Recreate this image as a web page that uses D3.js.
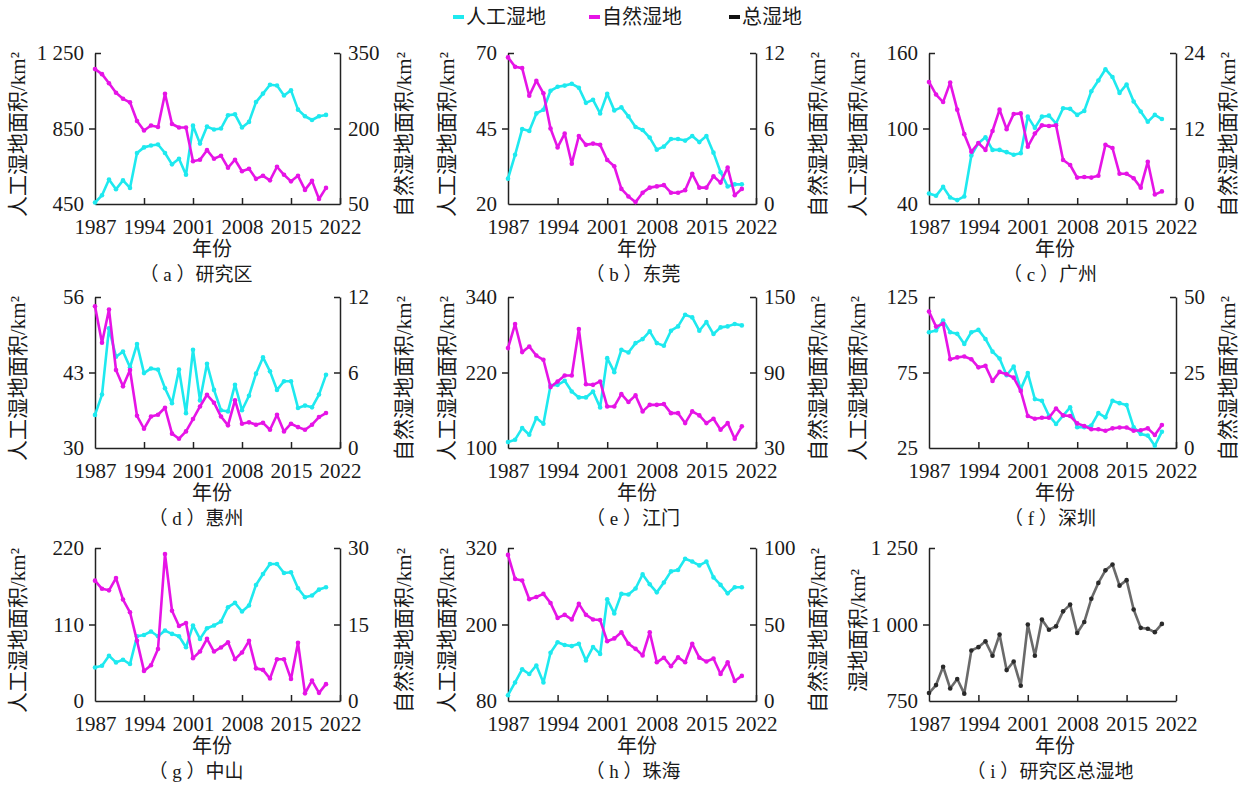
<!DOCTYPE html>
<html>
<head>
<meta charset="utf-8">
<script src="https://cdn.jsdelivr.net/npm/d3@7"></script>
<style>
  body { margin: 0; background: #fff; }
  text { font-family: "Liberation Serif", "Noto Sans CJK SC", serif; fill: #1a1a1a; }
</style>
</head>
<body>
<div id="chart"></div>
<script>
const years = [1987, 1988, 1989, 1990, 1991, 1992, 1993, 1994, 1995, 1996, 1997, 1998, 1999, 2000, 2001, 2002, 2003,
    2004, 2005, 2006, 2007, 2008, 2009, 2010, 2011, 2012, 2013, 2014, 2015, 2016, 2017, 2018, 2019, 2020];
const xTicks = [1987, 1994, 2001, 2008, 2015, 2022];

// (a) 研究区
const artA = [458, 496, 580, 528, 575, 535, 720, 750, 760, 765, 720, 660, 690, 605, 865, 770, 860, 845, 850, 920, 925, 855, 885, 990, 1035, 1082, 1078, 1025, 1052, 950, 915, 895, 915, 922];
const natA = [318, 308, 290, 271, 259, 252, 215, 196, 206, 203, 269, 209, 202, 202, 135, 138, 157, 140, 146, 122, 138, 115, 120, 100, 106, 97, 124, 108, 95, 106, 78, 96, 60, 82];
// (b) 东莞
const artB = [28.4, 36.3, 44.8, 44.2, 50, 51.2, 57.5, 58.8, 59.2, 59.8, 58.5, 53.5, 54.5, 50, 56.5, 51, 52, 49, 45.5, 44.5, 42, 38, 39, 41.5, 41.5, 41, 42.5, 40.5, 42.5, 37, 30.5, 25.8, 26.5, 26.5];
const natB = [11.65, 10.9, 10.8, 8.6, 9.8, 8.8, 6.0, 4.5, 5.6, 3.2, 5.4, 4.7, 4.8, 4.7, 3.5, 3.0, 1.2, 0.6, 0.15, 0.9, 1.3, 1.4, 1.5, 0.9, 0.9, 1.1, 2.4, 1.3, 1.3, 2.2, 1.7, 2.9, 0.7, 1.2];
// (c) 广州
const artC = [48.3, 46.5, 53.6, 45.2, 43.1, 46, 78.6, 88.3, 93, 83, 83, 81.2, 79.1, 80.4, 109.4, 100.5, 109.4, 110.2, 104, 116.1, 115.6, 110.8, 114, 129.6, 138.2, 147.1, 140.9, 128.3, 135, 121.5, 113.5, 105.4, 110.8, 107.5];
const natC = [19.4, 17.4, 16.2, 19.3, 15, 11.1, 8.3, 9.7, 8.6, 11.6, 15.0, 11.9, 14.3, 14.4, 9.1, 11.2, 12.5, 12.4, 12.5, 7.0, 6.2, 4.2, 4.3, 4.2, 4.5, 9.4, 8.9, 4.8, 4.8, 4.1, 2.6, 6.7, 1.5, 2.0];
// (d) 惠州
const artD = [35.7, 39.2, 50.6, 45.7, 46.6, 43.9, 47.9, 42.9, 43.7, 43.5, 40.3, 37.7, 43.5, 36, 46.9, 38.2, 44.5, 40, 36.5, 36.3, 40.9, 36.5, 39, 42.8, 45.6, 43.2, 40, 41.5, 41.5, 36.9, 37.3, 37, 39.2, 42.6];
const natD = [11.26, 8.37, 11.0, 6.2, 4.9, 6.2, 2.56, 1.53, 2.5, 2.64, 3.2, 1.14, 0.74, 1.32, 2.3, 3.3, 4.23, 3.6, 2.5, 1.8, 3.8, 1.93, 2.04, 1.85, 2.0, 1.45, 2.64, 1.32, 1.93, 1.66, 1.45, 1.85, 2.46, 2.78];
// (e) 江门
const artE = [109.5, 113.2, 131.7, 121.1, 147.6, 138.6, 199.4, 200.4, 206.8, 189.9, 180.4, 180.4, 189.9, 164.5, 242.8, 220.5, 256, 251.9, 266.7, 273.1, 285.3, 266.7, 262.5, 286.4, 293.3, 311.9, 307.6, 286.4, 300.2, 281.1, 291.7, 293.3, 297, 294.9];
const natE = [109.4, 128.5, 106.2, 110.7, 103.5, 100.1, 78.4, 82.9, 87.6, 87.6, 124.5, 80.7, 80.2, 82.9, 63, 63, 72.8, 66.5, 71.8, 59.1, 64.3, 64.3, 64.9, 57.7, 57.7, 49.8, 59.1, 55.9, 49.8, 53.3, 44.5, 49.8, 37.4, 47.2];
// (f) 深圳
const artF = [101.7, 102.8, 109.4, 101.7, 100.6, 93.9, 101.7, 103.2, 97.2, 88.8, 84.3, 73.2, 79, 64, 74.6, 57.4, 56.3, 46.4, 40.9, 46.4, 51.9, 38.7, 38.7, 39.8, 48.1, 45.3, 56.3, 54.7, 53.4, 38.7, 34.3, 33.2, 26.5, 35.8];
const natF = [45.2, 40.2, 41.1, 29.4, 30, 30.3, 29.4, 26.7, 27.2, 22.2, 25.2, 24.4, 23.3, 18.9, 10.6, 9.7, 10, 10, 13.1, 10.8, 10.6, 8.15, 7.3, 6.2, 6.2, 5.7, 6.5, 6.8, 6.8, 5.7, 5.9, 6.5, 4.3, 7.6];
// (g) 中山
const artG = [48.2, 50.7, 65.1, 55.5, 59.3, 53.1, 93.1, 95, 99.9, 93.1, 101.3, 96.5, 93.1, 77.2, 108.6, 89.3, 104.7, 108.6, 114.3, 134.9, 141.1, 128.7, 137.3, 166.9, 182.7, 197, 197, 184.1, 185.1, 162.1, 149.2, 151.6, 160.2, 163.6];
const natG = [23.6, 22, 21.7, 24.1, 19.9, 17.4, 11.8, 5.9, 7.0, 10.2, 28.8, 17.7, 14.7, 15.3, 8.4, 9.7, 12.2, 9.7, 10.5, 11.5, 8.2, 9.5, 11.8, 6.4, 6.1, 4.4, 8.2, 8.2, 4.3, 11.4, 1.5, 4, 1.6, 3.3];
// (h) 珠海
const artH = [89.1, 109.1, 129.7, 122.4, 135.8, 109.1, 155.8, 172.1, 167.9, 166.1, 169.7, 143.6, 164.8, 153.9, 239.5, 217.4, 248, 247.1, 256.5, 278.6, 263.1, 250.4, 265.9, 283.3, 285.6, 303.1, 298.8, 292.7, 298.8, 273.9, 262.1, 248.9, 258.4, 258.4];
const natH = [95.5, 79.8, 78.8, 66.5, 68, 70, 64.1, 54.3, 56.3, 53.3, 63.5, 56.3, 53.3, 52.9, 39.1, 40.9, 44.9, 37.4, 34.1, 29.8, 44.9, 25.3, 28.3, 22.7, 28.5, 25.3, 37.4, 28.3, 25.8, 27.8, 17.7, 25.3, 13.1, 16.4];
// (i) 研究区总湿地
const totalI = [776, 802, 862, 791, 822, 774, 915, 926, 945, 898, 967, 851, 879, 800, 1000, 898, 1016, 983, 994, 1043, 1065, 972, 1008, 1084, 1136, 1177, 1196, 1127, 1145, 1049, 989, 986, 975, 1002];

const captionLetters = ['a', 'b', 'c', 'd', 'e', 'f', 'g', 'h', 'i'];
const captionNames = ['研究区', '东莞', '广州', '惠州', '江门', '深圳', '中山', '珠海', '研究区总湿地'];
const leftTicks = [[450, 850, 1250], [20, 45, 70], [40, 100, 160], [30, 43, 56], [100, 220, 340], [25, 75, 125], [0, 110, 220], [80, 200, 320], [750, 1000, 1250]];
const rightTicks = [[50, 200, 350], [0, 6, 12], [0, 12, 24], [0, 6, 12], [30, 90, 150], [0, 25, 50], [0, 15, 30], [0, 50, 100], null];
const artSeries = [artA, artB, artC, artD, artE, artF, artG, artH, totalI];
const natSeries = [natA, natB, natC, natD, natE, natF, natG, natH, null];

const legendNames = ['人工湿地', '自然湿地', '总湿地'];
const colArt = '#1ee9ef', colNat = '#e614e6', colTot = '#6a6a6a';

const W = 1247, H = 787;
const svg = d3.select('#chart').append('svg').attr('width', W).attr('height', H);
svg.append('rect').attr('width', W).attr('height', H).attr('fill', '#fff');

const cols = [
    { l: 95, r: 340, tl: 18, tr: 404, xl: 212, cap: 196 },
    { l: 508, r: 756, tl: 447, tr: 818, xl: 637, cap: 633 },
    { l: 929, r: 1176, tl: 858, tr: 1228, xl: 1055, cap: 1050 }
];
const rows = [{ t: 53, b: 204 }, { t: 297, b: 448 }, { t: 548, b: 701 }];

const fmt = d => d >= 1000 ? String(d).replace(/(\d)(\d{3})$/, '$1 $2') : String(d);

function styleAxis(g) {
    g.select('.domain').attr('stroke', '#222').attr('stroke-width', 1.5);
    g.selectAll('.tick line').attr('stroke', '#222').attr('stroke-width', 1.5);
    g.selectAll('.tick text').attr('font-size', 21).attr('fill', '#1a1a1a')
        .style('font-family', '"Liberation Serif", serif');
}

function drawSeries(g, x, y, vals, color, dotColor) {
    const pts = years.map((yr, i) => ({ yr, v: vals[i] }));
    g.append('path').datum(pts)
        .attr('fill', 'none').attr('stroke', color).attr('stroke-width', 2.6)
        .attr('stroke-linejoin', 'round')
        .attr('d', d3.line().x(d => x(d.yr)).y(d => y(d.v)));
    g.selectAll(null).data(pts).enter().append('circle')
        .attr('cx', d => x(d.yr)).attr('cy', d => y(d.v)).attr('r', 2.3)
        .attr('fill', dotColor);
}

captionNames.forEach((name, k) => {
    const c = cols[k % 3], rw = rows[Math.floor(k / 3)];
    const g = svg.append('g');
    const x = d3.scaleLinear().domain([1987, 2022]).range([c.l, c.r]);
    const lt = leftTicks[k];
    const yL = d3.scaleLinear().domain([lt[0], lt[2]]).range([rw.b, rw.t]);

    // x axis
    const gx = g.append('g').attr('transform', `translate(0,${rw.b})`)
        .call(d3.axisBottom(x).tickValues(xTicks).tickFormat(d3.format('d'))
            .tickSizeInner(-6).tickSizeOuter(0).tickPadding(15));
    styleAxis(gx);
    gx.selectAll('.tick line').filter(d => d === 1987).remove();

    // left axis
    const gl = g.append('g').attr('transform', `translate(${c.l},0)`)
        .call(d3.axisLeft(yL).tickValues(lt).tickFormat(fmt).tickSizeInner(6).tickSizeOuter(0).tickPadding(5));
    styleAxis(gl);
    gl.selectAll('.tick line').filter(d => d === lt[2]).attr('x2', 6);
    gl.selectAll('.tick line').filter(d => d === lt[0]).remove();

    g.append('text')
        .attr('transform', `translate(${c.tl},${(rw.t + rw.b) / 2 + 6}) rotate(-90)`)
        .attr('text-anchor', 'middle').attr('dominant-baseline', 'central')
        .attr('font-size', 21)
        .text(k === 8 ? '湿地面积/km²' : '人工湿地面积/km²');

    if (rightTicks[k]) {
        const rt = rightTicks[k];
        const yR = d3.scaleLinear().domain([rt[0], rt[2]]).range([rw.b, rw.t]);
        const gr = g.append('g').attr('transform', `translate(${c.r},0)`)
            .call(d3.axisRight(yR).tickValues(rt).tickSizeInner(-6).tickSizeOuter(0).tickPadding(8));
        styleAxis(gr);
        gr.selectAll('.tick line').filter(d => d === rt[0]).remove();
        g.append('text')
            .attr('transform', `translate(${c.tr},${(rw.t + rw.b) / 2 + 6}) rotate(-90)`)
            .attr('text-anchor', 'middle').attr('dominant-baseline', 'central')
            .attr('font-size', 21)
            .text('自然湿地面积/km²');
        drawSeries(g, x, yL, artSeries[k], colArt, colArt);
        drawSeries(g, x, yR, natSeries[k], colNat, colNat);
    } else {
        drawSeries(g, x, yL, artSeries[k], colTot, '#2a2a2a');
    }

    g.append('text').attr('x', c.xl).attr('y', rw.b + 52)
        .attr('text-anchor', 'middle').attr('font-size', 20).text('年份');
    const cp = g.append('text').attr('x', c.cap).attr('y', rw.b + 77)
        .attr('text-anchor', 'middle').attr('font-size', 19);
    cp.append('tspan').text('（ ' + captionLetters[k] + ' ）');
    cp.append('tspan').text(name);
});

// legend
const legend = svg.append('g');
const legX = [453, 589, 729];
const legCol = [colArt, colNat, '#111'];
legendNames.forEach((name, i) => {
    legend.append('rect').attr('x', legX[i]).attr('y', 15).attr('width', 11).attr('height', 4).attr('fill', legCol[i]);
    legend.append('text').attr('x', legX[i] + 13).attr('y', 17)
        .attr('dominant-baseline', 'central').attr('font-size', 20).text(name);
});
</script>
</body>
</html>
